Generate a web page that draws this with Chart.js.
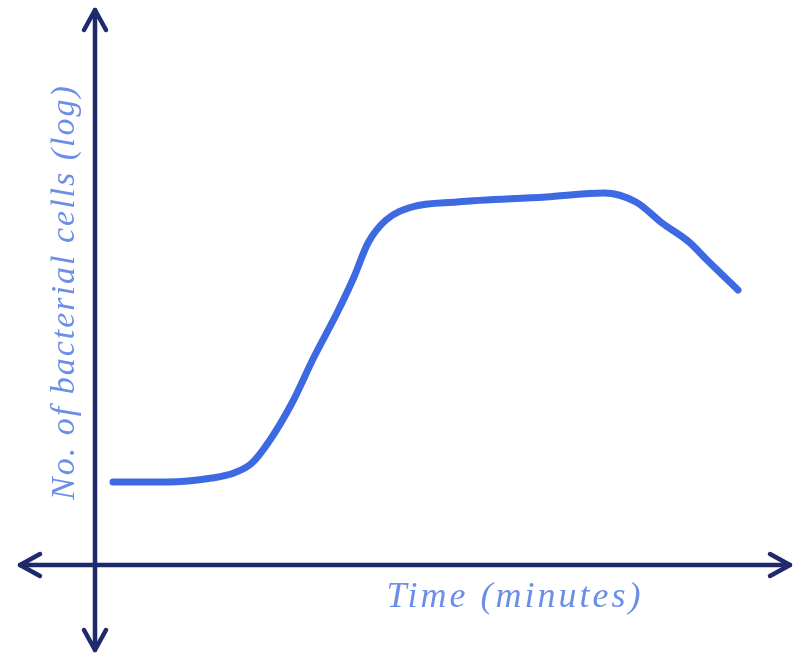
<!DOCTYPE html>
<html>
<head>
<meta charset="utf-8">
<script src="https://cdn.jsdelivr.net/npm/chart.js@4"></script>
<style>
  html, body { margin: 0; padding: 0; background: #fff; }
  #wrap { width: 807px; height: 659px; }
</style>
</head>
<body>
<div id="wrap"><canvas id="grafico"></canvas></div>
<script>
// tiempo (unidades arbitrarias) y log del numero de celulas
const tiempos = [1.8, 7.2, 11.7, 13.9, 15.7, 17.5, 19.7, 21.9, 24.2, 25.9, 27.3, 29.1, 31.7, 36.2, 45.1, 50.9, 54.1, 56.7, 59.4, 61.2, 64.3]
const celulas = [8.3, 8.3, 8.7, 9.2, 10.2, 12.5, 16.2, 20.8, 25.2, 28.8, 32.2, 34.5, 35.8, 36.3, 36.8, 37.2, 36.3, 34.2, 32.3, 30.5, 27.5]

const tituloX = "Time (minutes)"
const tituloY = "No. of bacterial cells (log)"

let puntos = []
tiempos.forEach((t, i) => {
  puntos.push({ x: t, y: celulas[i] })
})

const flecha = (ctx, x, y, ang) => {
  ctx.save()
  ctx.translate(x, y)
  ctx.rotate(ang)
  ctx.beginPath()
  ctx.moveTo(-20, -11)
  ctx.lineTo(0, 0)
  ctx.lineTo(-20, 11)
  ctx.stroke()
  ctx.restore()
}

const ejes = {
  id: "ejes",
  afterDatasetsDraw(chart) {
    const ctx = chart.ctx
    const sx = chart.scales.x
    const sy = chart.scales.y
    const x0 = sx.getPixelForValue(0)
    const y0 = sy.getPixelForValue(0)
    const xi = sx.getPixelForValue(-7.5)
    const xf = sx.getPixelForValue(69.5)
    const ys = sy.getPixelForValue(55.5)
    const yb = sy.getPixelForValue(-8.5)

    ctx.save()
    ctx.strokeStyle = "#1e2a6b"
    ctx.lineWidth = 4.5
    ctx.lineCap = "round"
    ctx.lineJoin = "round"
    ctx.beginPath()
    ctx.moveTo(xi, y0)
    ctx.lineTo(xf, y0)
    ctx.moveTo(x0, ys)
    ctx.lineTo(x0, yb)
    ctx.stroke()
    flecha(ctx, xf, y0, 0)
    flecha(ctx, xi, y0, Math.PI)
    flecha(ctx, x0, ys, -Math.PI / 2)
    flecha(ctx, x0, yb, Math.PI / 2)

    ctx.fillStyle = "#6b8ee6"
    ctx.textAlign = "center"
    ctx.textBaseline = "middle"
    ctx.font = "italic 36px 'Liberation Serif'"
    ctx.letterSpacing = "3px"
    ctx.fillText(tituloX, sx.getPixelForValue(42), sy.getPixelForValue(-3.3))

    ctx.translate(sx.getPixelForValue(-3.0), sy.getPixelForValue(27.3))
    ctx.rotate(-Math.PI / 2)
    ctx.font = "italic 34px 'Liberation Serif'"
    ctx.letterSpacing = "2px"
    ctx.fillText(tituloY, 0, 0)
    ctx.restore()
  }
}

new Chart(document.getElementById("grafico"), {
  type: "line",
  data: {
    datasets: [
      {
        data: puntos,
        borderColor: "#3d6ae2",
        borderWidth: 7,
        pointRadius: 0,
        tension: 0.4,
        cubicInterpolationMode: "monotone",
        borderCapStyle: "round",
        fill: false,
      },
    ],
  },
  options: {
    responsive: true,
    maintainAspectRatio: false,
    animation: false,
    layout: { padding: 0 },
    plugins: { legend: { display: false }, tooltip: { enabled: false } },
    scales: {
      x: { type: "linear", min: -9.5, max: 71.2, display: false },
      y: { type: "linear", min: -9.4, max: 56.5, display: false },
    },
  },
  plugins: [ejes],
})
</script>
</body>
</html>
